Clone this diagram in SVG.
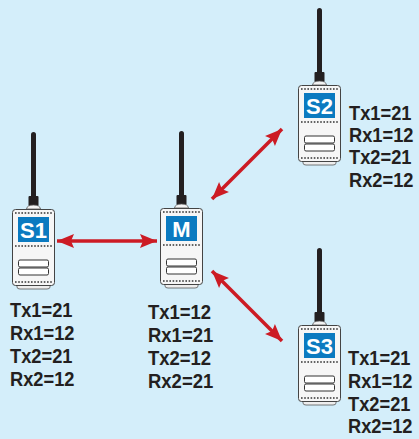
<svg xmlns="http://www.w3.org/2000/svg" xmlns:xlink="http://www.w3.org/1999/xlink" width="419" height="439" viewBox="0 0 419 439">
<style>
.cfg{font-family:"Liberation Sans",Arial,sans-serif;font-weight:bold;font-size:21px;fill:#231f20}
.lbl{font-family:"Liberation Sans",Arial,sans-serif;font-weight:bold;font-size:22px;fill:#ffffff;text-anchor:middle}
.conn{stroke:#cc1b24;stroke-width:3.5;fill:none;marker-start:url(#head);marker-end:url(#head)}
</style>
<defs>
<marker id="head" markerUnits="userSpaceOnUse" markerWidth="20" markerHeight="16" viewBox="-18 -8 19 16" refX="0" refY="0" orient="auto-start-reverse">
<path d="M0,0 L-17,-7 L-14,0 L-17,7 Z" fill="#cc1b24"/>
</marker>
<g id="device">
<rect x="19" y="-77" width="5" height="66" rx="2.5" fill="#231f20"/>
<rect x="16.5" y="-13" width="10" height="10" rx="1" fill="#231f20"/>
<path d="M14.5,0 Q15,-4 21.5,-4 Q28,-4 28.5,0 Z" fill="#f4f4f4" stroke="#555" stroke-width="0.8"/>
<path d="M5,74 L5,78 Q5,80 8,80 L35,80 Q38,80 38,78 L38,74 Z" fill="#eeeeee" stroke="#555" stroke-width="0.8"/>
<rect x="0.5" y="0.5" width="42" height="76" rx="3" fill="#f6f6f6" stroke="#444" stroke-width="1"/>
<g stroke="#333" stroke-width="1.6" stroke-dasharray="1.6 1.6">
<line x1="3" y1="4" x2="40" y2="4"/>
<line x1="3" y1="37" x2="40" y2="37"/>
<line x1="3" y1="73" x2="40" y2="73"/>
</g>
<rect x="6" y="8" width="31" height="25" fill="#0b7ac0"/>
<rect x="6.5" y="51" width="30" height="7" rx="1.5" fill="#ffffff" stroke="#333" stroke-width="1"/>
<rect x="6.5" y="59" width="30" height="7" rx="1.5" fill="#ffffff" stroke="#333" stroke-width="1"/>
</g>
</defs>
<rect width="419" height="439" fill="#d4eefa"/>
<g id="connectors">
<line class="conn" x1="57" y1="241" x2="157" y2="241"/>
<line class="conn" x1="212" y1="199" x2="282" y2="129"/>
<line class="conn" x1="212" y1="271" x2="282" y2="341"/>
</g>
<g id="node-S1">
<use xlink:href="#device" transform="translate(12,209)"/>
<text class="lbl" x="33.5" y="238">S1</text>
<g transform="translate(10,0) scale(0.87,1)">
<text class="cfg" x="0" y="317">Tx1=21</text>
<text class="cfg" x="0" y="340">Rx1=12</text>
<text class="cfg" x="0" y="363">Tx2=21</text>
<text class="cfg" x="0" y="386">Rx2=12</text>
</g>
</g>
<g id="node-M">
<use xlink:href="#device" transform="translate(160,208)"/>
<text class="lbl" x="181.5" y="237">M</text>
<g transform="translate(148,0) scale(0.88,1)">
<text class="cfg" x="0" y="319">Tx1=12</text>
<text class="cfg" x="0" y="342">Rx1=21</text>
<text class="cfg" x="0" y="365">Tx2=12</text>
<text class="cfg" x="0" y="388">Rx2=21</text>
</g>
</g>
<g id="node-S2">
<use xlink:href="#device" transform="translate(298,85)"/>
<text class="lbl" x="319.5" y="114">S2</text>
<g transform="translate(349,0) scale(0.87,1)">
<text class="cfg" x="0" y="120">Tx1=21</text>
<text class="cfg" x="0" y="142">Rx1=12</text>
<text class="cfg" x="0" y="164">Tx2=21</text>
<text class="cfg" x="0" y="187">Rx2=12</text>
</g>
</g>
<g id="node-S3">
<use xlink:href="#device" transform="translate(298,325)"/>
<text class="lbl" x="319.5" y="354">S3</text>
<g transform="translate(348,0) scale(0.87,1)">
<text class="cfg" x="0" y="365">Tx1=21</text>
<text class="cfg" x="0" y="388">Rx1=12</text>
<text class="cfg" x="0" y="411">Tx2=21</text>
<text class="cfg" x="0" y="433">Rx2=12</text>
</g>
</g>
</svg>
